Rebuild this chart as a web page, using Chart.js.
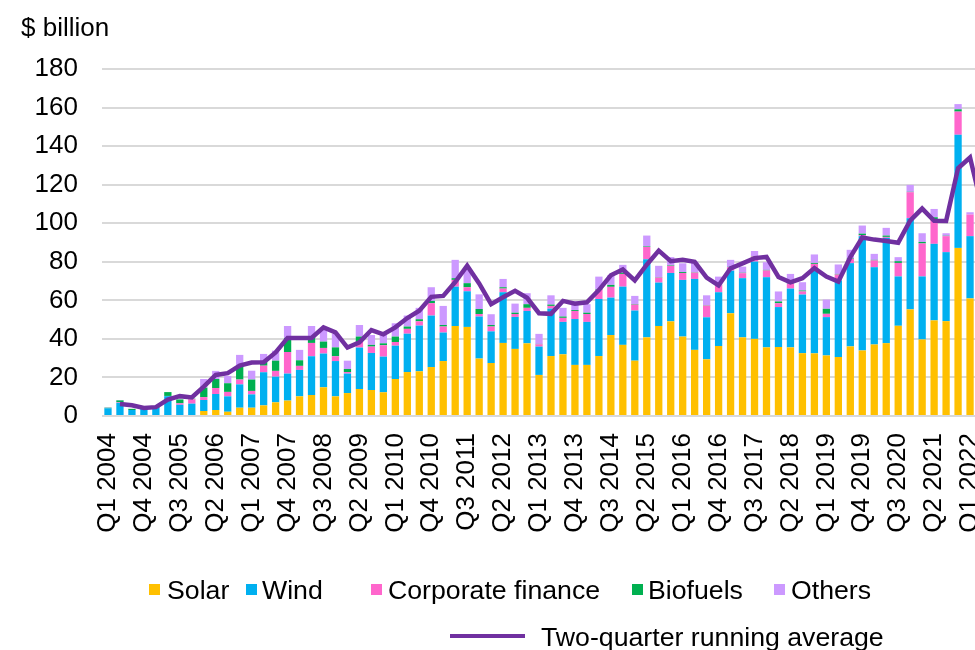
<!DOCTYPE html>
<html>
<head>
<meta charset="utf-8">
<script src="https://cdn.jsdelivr.net/npm/chart.js@4.4.1/dist/chart.umd.min.js"></script>
<style>
  html, body { margin: 0; padding: 0; background: #fff; overflow: hidden; width: 975px; height: 650px; }
  #wrap { position: absolute; left: 0; top: 0; }
  .txt { position: absolute; font-family: 'Liberation Sans', Arial, sans-serif; font-size: 26px; color: #000; line-height: 26px; white-space: nowrap; }
  .leg { font-size: 26.7px; }
  .sw { position: absolute; width: 11px; height: 11px; }
</style>
</head>
<body>
<div id="wrap"><canvas id="chart" width="988" height="650"></canvas></div>

<div class="txt" style="left:21px; top:14px;">$ billion</div>

<!-- legenda -->
<span class="sw" style="left:149px; top:584px; background:#FFC000;"></span>
<span class="txt leg" style="left:167px; top:577px;">Solar</span>
<span class="sw" style="left:246px; top:584px; background:#00B0F0;"></span>
<span class="txt leg" style="left:262px; top:577px;">Wind</span>
<span class="sw" style="left:371px; top:584px; background:#FF66CC;"></span>
<span class="txt leg" style="left:388px; top:577px;">Corporate finance</span>
<span class="sw" style="left:632px; top:584px; background:#00B050;"></span>
<span class="txt leg" style="left:648px; top:577px;">Biofuels</span>
<span class="sw" style="left:774px; top:584px; background:#CC99FF;"></span>
<span class="txt leg" style="left:791px; top:577px;">Others</span>
<span class="sw" style="left:450px; top:634px; width:75px; height:4px; background:#7030A0;"></span>
<span class="txt leg" style="left:541px; top:624px;">Two-quarter running average</span>

<script>
// Trimestres (Q1 2004 - Q2 2022)
const quarters = [
    'Q1 2004', 'Q2 2004', 'Q3 2004', 'Q4 2004',
    'Q1 2005', 'Q2 2005', 'Q3 2005', 'Q4 2005',
    'Q1 2006', 'Q2 2006', 'Q3 2006', 'Q4 2006',
    'Q1 2007', 'Q2 2007', 'Q3 2007', 'Q4 2007',
    'Q1 2008', 'Q2 2008', 'Q3 2008', 'Q4 2008',
    'Q1 2009', 'Q2 2009', 'Q3 2009', 'Q4 2009',
    'Q1 2010', 'Q2 2010', 'Q3 2010', 'Q4 2010',
    'Q1 2011', 'Q2 2011', 'Q3 2011', 'Q4 2011',
    'Q1 2012', 'Q2 2012', 'Q3 2012', 'Q4 2012',
    'Q1 2013', 'Q2 2013', 'Q3 2013', 'Q4 2013',
    'Q1 2014', 'Q2 2014', 'Q3 2014', 'Q4 2014',
    'Q1 2015', 'Q2 2015', 'Q3 2015', 'Q4 2015',
    'Q1 2016', 'Q2 2016', 'Q3 2016', 'Q4 2016',
    'Q1 2017', 'Q2 2017', 'Q3 2017', 'Q4 2017',
    'Q1 2018', 'Q2 2018', 'Q3 2018', 'Q4 2018',
    'Q1 2019', 'Q2 2019', 'Q3 2019', 'Q4 2019',
    'Q1 2020', 'Q2 2020', 'Q3 2020', 'Q4 2020',
    'Q1 2021', 'Q2 2021', 'Q3 2021', 'Q4 2021',
    'Q1 2022', 'Q2 2022'
];

// Investimento por setor ($ bilhões)
const solar = [
    0, 0, 0, 0, 0, 0, 0, 0,
    2.6, 3.1, 2.2, 4.3, 4.3, 5.5, 7.1, 8.0, 10.2, 10.9,
    14.9, 10.2, 11.9, 14.0, 13.5, 12.3, 19.2, 22.8, 23.2, 25.4,
    28.5, 46.7, 46.2, 29.8, 27.5, 37.9, 34.8, 37.7, 21.3, 31.1,
    32.0, 26.5, 26.5, 31.1, 42.0, 36.9, 28.7, 40.8, 46.7, 49.1,
    41.2, 34.3, 29.4, 36.3, 53.3, 40.8, 40.0, 35.6, 35.8, 35.6,
    32.6, 32.5, 31.4, 30.6, 36.1, 34.0, 37.1, 37.8, 46.8, 55.3,
    39.7, 49.6, 49.2, 87.2, 61.0, 60.0
];
const wind = [
    4.0, 6.8, 3.1, 3.8, 4.2, 10.3, 5.8, 6.4,
    5.7, 8.3, 8.0, 12.1, 6.9, 17.2, 13.3, 14.0, 13.7, 20.1,
    17.5, 18.3, 10.1, 21.5, 19.2, 18.5, 17.3, 19.9, 23.7, 26.7,
    14.8, 20.4, 18.5, 21.8, 16.4, 26.3, 16.6, 16.8, 14.7, 24.6,
    16.8, 23.8, 22.3, 29.6, 19.4, 30.2, 26.0, 40.5, 22.5, 25.1,
    29.4, 36.8, 21.8, 27.9, 22.1, 30.7, 40.1, 36.4, 20.7, 30.5,
    30.4, 43.0, 19.9, 39.7, 43.2, 59.3, 40.1, 54.6, 25.6, 47.3,
    32.7, 39.7, 35.8, 58.7, 32.3, 35.0
];
const corporateFinance = [
    0, 0.3, 0, 0, 0, 0.1, 0.8, 2.3,
    1.5, 3.1, 2.3, 2.5, 1.8, 3.4, 3.0, 11.2, 2.1, 6.9,
    2.9, 2.5, 0.8, 2.9, 3.3, 5.9, 1.9, 2.5, 2.2, 6.4,
    3.1, 3.5, 2.1, 1.3, 2.5, 1.9, 1.5, 1.6, 1.2, 1.4,
    2.1, 4.2, 4.1, 4.7, 5.6, 6.6, 3.1, 6.4, 2.6, 3.7,
    3.6, 3.3, 6.1, 3.6, 1.8, 2.6, 2.6, 3.5, 2.0, 2.5,
    1.6, 3.4, 1.7, 3.1, 2.2, 0.5, 3.5, 0.5, 7.0, 13.5,
    17.1, 12.9, 8.3, 12.0, 11.2, 10.0
];
const biofuels = [
    0.3, 1.0, 0.6, 0.2, 0.6, 2.0, 2.0, 0.3,
    4.9, 4.7, 4.5, 6.9, 5.9, 2.3, 5.3, 7.3, 2.9, 3.6,
    3.3, 4.6, 1.6, 2.8, 0.9, 1.0, 2.8, 1.2, 1.1, 1.2,
    0.8, 0.9, 2.1, 2.6, 0.8, 0.7, 0.7, 1.9, 0.2, 0.7,
    0.7, 0.5, 0.7, 0.3, 1.0, 0.7, 0.3, 0.3, 0.2, 0.3,
    0.5, 0.2, 0.2, 0.2, 0.2, 0.2, 0.2, 0.3, 0.9, 0.2,
    0.5, 0.5, 2.6, 0.3, 0.3, 0.8, 0.3, 0.7, 0.9, 0.2,
    0.8, 0.9, 0.2, 1.2, 0.0, 0.5
];
const others = [
    0.2, 0.2, 0.1, 0, 0, 0, 0, 0,
    4.5, 4.2, 3.8, 5.9, 4.6, 3.8, 5.2, 6.2, 5.4, 5.2,
    6.0, 7.0, 4.3, 6.0, 5.1, 4.3, 6.9, 5.7, 5.9, 7.1,
    9.9, 9.5, 6.9, 7.6, 5.6, 4.3, 4.7, 5.7, 5.2, 4.8,
    4.5, 4.5, 4.4, 6.6, 5.0, 4.0, 4.2, 5.6, 5.9, 4.2,
    4.5, 5.5, 5.1, 4.3, 3.6, 3.2, 2.7, 4.0, 5.2, 4.9,
    4.3, 4.4, 4.8, 4.9, 4.4, 4.2, 3.1, 4.0, 2.1, 3.6,
    4.5, 4.3, 1.3, 2.7, 1.2, 4.0
];

// Média móvel de dois trimestres
const runningAvg = [
    null, 6.2, 5.6, 4.2, 4.6, 8.5, 10.3, 9.6,
    15.2, 21.3, 22.2, 26.1, 27.7, 27.9, 33.0, 40.5, 40.5, 40.5,
    46.0, 43.4, 35.5, 38.2, 44.6, 42.4, 46.0, 50.8, 54.6, 61.8,
    62.3, 69.5, 78.0, 68.8, 58.0, 61.6, 64.9, 61.3, 53.3, 53.0,
    59.7, 58.2, 59.0, 65.3, 73.0, 76.0, 70.3, 78.5, 85.8, 80.3,
    81.0, 80.0, 71.8, 67.7, 76.6, 79.2, 81.9, 82.5, 72.1, 69.3,
    71.5, 76.7, 72.3, 69.7, 82.4, 92.6, 91.5, 90.8, 89.9, 101.3,
    107.6, 101.3, 101.2, 128.5, 134.1, 108.0
];

const font = { family: "'Liberation Sans', Arial, sans-serif", size: 26 };

function barSet(label, data, color) {
    return { label: label, data: data, backgroundColor: color, order: 1, stack: 'inv' };
}

const ctx = document.getElementById('chart').getContext('2d');
const chart = new Chart(ctx, {
    type: 'bar',
    data: {
        labels: quarters,
        datasets: [
            {
                type: 'line',
                label: 'Two-quarter running average',
                data: runningAvg,
                borderColor: '#7030A0',
                borderWidth: 4.5,
                pointRadius: 0,
                tension: 0,
                fill: false,
                order: 0,
                stack: 'avg'
            },
            barSet('Solar', solar, '#FFC000'),
            barSet('Wind', wind, '#00B0F0'),
            barSet('Corporate finance', corporateFinance, '#FF66CC'),
            barSet('Biofuels', biofuels, '#00B050'),
            barSet('Others', others, '#CC99FF')
        ]
    },
    options: {
        responsive: false,
        animation: false,
        devicePixelRatio: 1,
        layout: { padding: { left: 0, top: 69, right: 0, bottom: 99 } },
        plugins: { legend: { display: false }, tooltip: { enabled: false } },
        datasets: { bar: { barPercentage: 0.61, categoryPercentage: 1 } },
        scales: {
            x: {
                stacked: true,
                grid: { display: false, drawTicks: false },
                border: { display: false },
                ticks: {
                    autoSkip: false,
                    maxRotation: 90,
                    minRotation: 90,
                    padding: 17,
                    color: '#000',
                    font: font,
                    callback: function (val, i) {
                        return i % 3 === 0 ? this.getLabelForValue(val) : null;
                    }
                },
                afterFit: function (scale) {
                    // o eixo x fica com altura fixa e sem folga lateral
                    scale.paddingLeft = 0;
                    scale.paddingRight = 0;
                    scale.height = 135;
                }
            },
            y: {
                stacked: true,
                min: 0,
                max: 180,
                ticks: { stepSize: 20, padding: 24, color: '#000', font: font },
                grid: { color: '#d9d9d9', lineWidth: 2, drawTicks: false },
                border: { display: false },
                afterFit: function (scale) {
                    scale.width = 102;
                }
            }
        }
    }
});
</script>
</body>
</html>
